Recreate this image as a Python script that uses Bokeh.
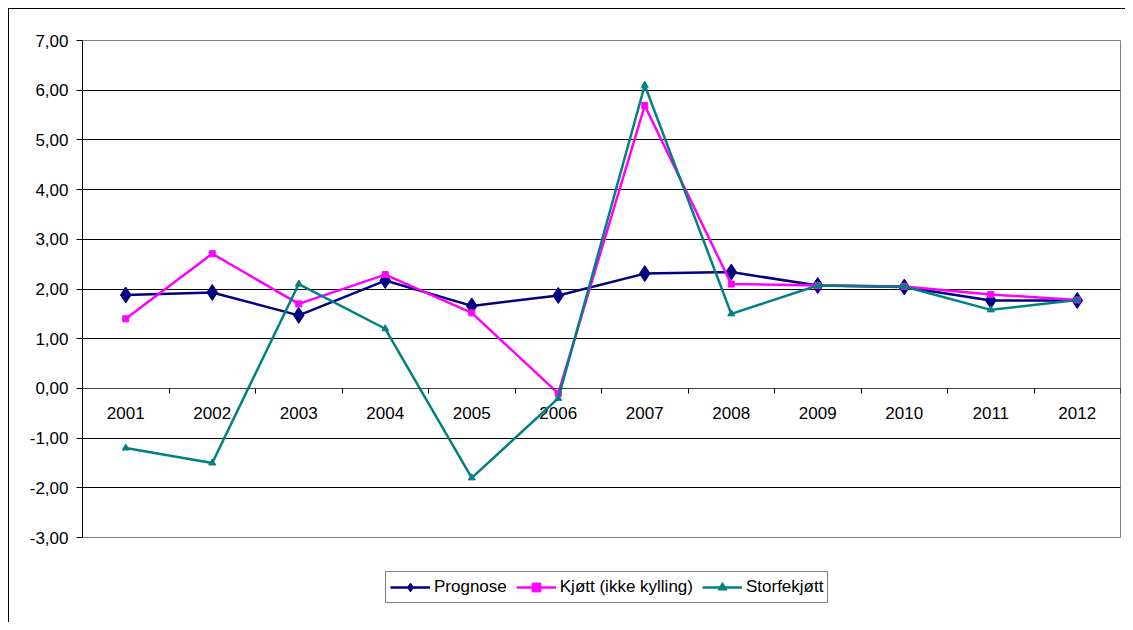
from bokeh.plotting import figure
from bokeh.layouts import column
from bokeh.models import (Range1d, FixedTicker, CustomJSTickFormatter, Legend, LegendItem)
from bokeh.core.properties import value
from bokeh.embed import file_html
from bokeh.resources import INLINE

years = ["2001", "2002", "2003", "2004", "2005", "2006",
         "2007", "2008", "2009", "2010", "2011", "2012"]
prognose = [1.88, 1.93, 1.47, 2.17, 1.66, 1.87, 2.31, 2.34, 2.07, 2.04, 1.77, 1.77]
kjott = [1.40, 2.71, 1.70, 2.29, 1.52, -0.10, 5.69, 2.10, 2.07, 2.05, 1.89, 1.78]
storfe = [-1.20, -1.50, 2.10, 1.20, -1.80, -0.20, 6.10, 1.50, 2.07, 2.05, 1.58, 1.78]
y_ticks = [-3, -2, -1, 0, 1, 2, 3, 4, 5, 6, 7]
series_names = ["Prognose", "Kjøtt (ikke kylling)", "Storfekjøtt"]
colors = ["#000080", "#FF00FF", "#008080"]
markers = ["diamond", "square", "triangle"]
marker_sizes = [16, 6, 7]

FONT = "Liberation Sans"
FS = "17px"
n = len(years)
x = list(range(1, n + 1))
series = [prognose, kjott, storfe]

# ---------------- main chart ----------------
p = figure(frame_width=1038, frame_height=497,
           x_range=Range1d(0.5, n + 0.5), y_range=Range1d(y_ticks[0], y_ticks[-1]),
           x_axis_location="above",
           output_backend="svg", toolbar_location=None,
           min_border_left=82, min_border_right=5, min_border_top=40, min_border_bottom=33)
# outer chart border (1px line at 8px from the left/top edges)
p.styles = {"box-shadow": "inset 8px 8px 0 0 white, inset 9px 9px 0 0 black",
            "background-color": "white"}
p.background_fill_color = "white"
p.border_fill_alpha = 0
p.outline_line_color = "#808080"
p.outline_line_width = 1

p.xgrid.visible = False
p.ygrid.ticker = FixedTicker(ticks=y_ticks[1:-1])
p.ygrid.grid_line_color = "black"
p.ygrid.grid_line_width = 1

yax = p.yaxis[0]
yax.ticker = FixedTicker(ticks=y_ticks)
yax.formatter = CustomJSTickFormatter(code="return tick.toFixed(2).replace('.', ',');")
yax.axis_line_color = "black"
yax.major_tick_line_color = "black"
yax.major_tick_out = 6
yax.major_tick_in = 0
yax.minor_tick_line_color = None
yax.major_label_text_font = FONT
yax.major_label_text_font_size = FS
yax.major_label_text_color = "black"
yax.major_label_standoff = 8

# category axis crossing at zero: boundary ticks pointing down
xax = p.xaxis[0]
xax.fixed_location = 0
xax.ticker = FixedTicker(ticks=[], minor_ticks=[i + 0.5 for i in range(0, n + 1)])
xax.axis_line_color = "#404040"
xax.major_tick_line_color = None
xax.minor_tick_line_color = "black"
xax.minor_tick_out = 0
xax.minor_tick_in = 5
xax.major_label_text_color = None

# category labels just below the zero line
p.text(x=x, y=[0] * n, text=years, text_align="center", text_baseline="middle",
       y_offset=25, text_font=value(FONT), text_font_size=FS, text_color="black")

for vals, c, mk, ms in zip(series, colors, markers, marker_sizes):
    p.line(x, vals, line_color=c, line_width=2.5)
    p.scatter(x, vals, marker=mk, size=ms, fill_color=c, line_color=c)

# ---------------- legend strip ----------------
# its ranges lie away from the data, so the series only show up as legend glyphs
p2 = figure(width=1125, height=52, x_range=Range1d(-20, -19), y_range=Range1d(-20, -19),
            x_axis_location=None, y_axis_location=None,
            output_backend="svg", toolbar_location=None,
            min_border_left=82, min_border_right=5, min_border_top=0, min_border_bottom=0)
p2.styles = {"box-shadow": "inset 8px 0 0 0 white, inset 9px 0 0 0 black",
             "background-color": "white"}
p2.grid.visible = False
p2.outline_line_color = None
p2.background_fill_alpha = 0
p2.border_fill_alpha = 0

items = []
for name, vals, c, mk, ms in zip(series_names, series, colors, markers, marker_sizes):
    lr = p2.line(x, vals, line_color=c, line_width=2.5)
    sr = p2.scatter(x, vals, marker=mk, size=ms, fill_color=c, line_color=c)
    items.append(LegendItem(label=name, renderers=[lr, sr]))

legend = Legend(items=items, orientation="horizontal", location=(303, 19))
legend.label_text_font = FONT
legend.label_text_font_size = FS
legend.label_text_color = "black"
legend.glyph_width = 40
legend.glyph_height = 22
legend.label_height = 22
legend.label_standoff = 4
legend.spacing = 9
legend.padding = 4
legend.margin = 0
legend.border_line_color = "black"
legend.border_line_width = 1
legend.background_fill_color = "white"
legend.background_fill_alpha = 1
p2.add_layout(legend)

layout = column(p, p2, spacing=0)
open("out.html", "w").write(file_html(layout, INLINE))
